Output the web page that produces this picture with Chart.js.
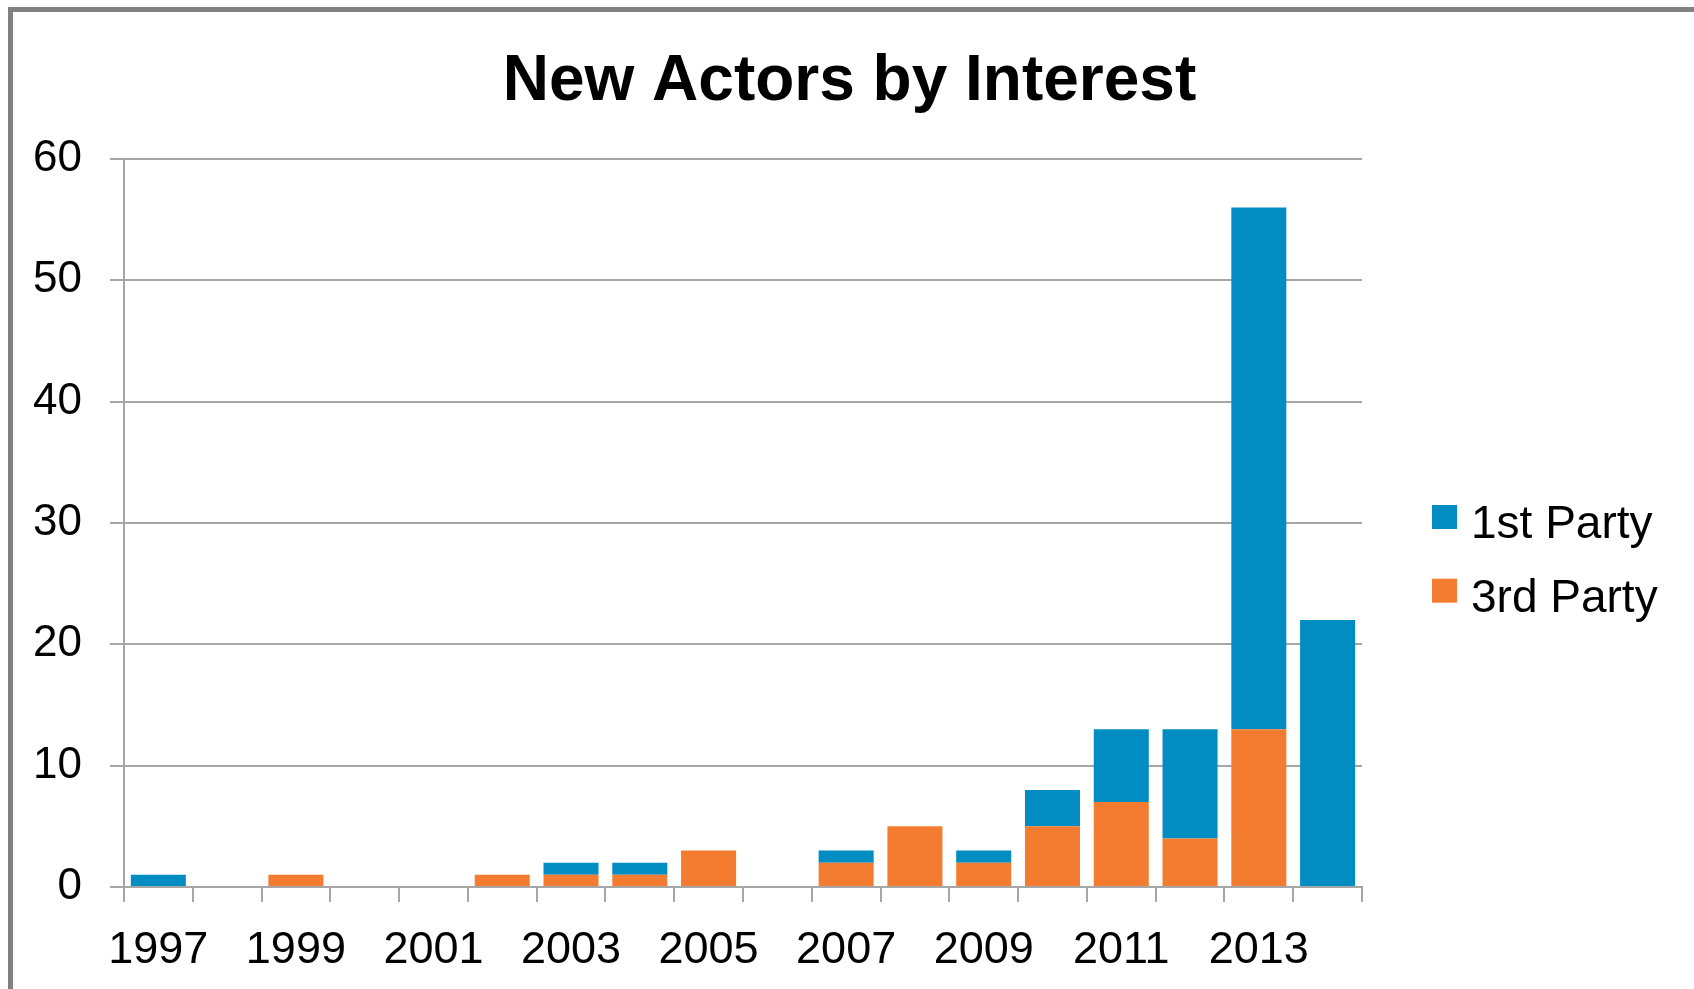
<!DOCTYPE html>
<html>
<head>
<meta charset="utf-8">
<title>New Actors by Interest</title>
<script src="https://cdn.jsdelivr.net/npm/chart.js@4/dist/chart.umd.min.js"></script>
<style>
  html, body { margin: 0; padding: 0; background: #fff; overflow: hidden; }
  #wrap { position: relative; width: 1694px; height: 989px; }
  #frame {
    position: absolute; left: 8px; top: 7px; right: 0; bottom: 0;
    border-left: 5px solid #808080; border-top: 5px solid #808080;
    pointer-events: none;
  }
</style>
</head>
<body>
<div id="wrap">
  <canvas id="actorsChart"></canvas>
  <div id="frame"></div>
</div>
<script>
// ---- data ----
const years = ['1997', '1998', '1999', '2000', '2001', '2002', '2003', '2004', '2005',
               '2006', '2007', '2008', '2009', '2010', '2011', '2012', '2013', '2014'];
const firstParty = [1, 0, 0, 0, 0, 0, 1, 1, 0, 0, 1, 0, 1, 3, 6, 9, 43, 22];
const thirdParty = [0, 0, 1, 0, 0, 1, 1, 1, 3, 0, 2, 5, 2, 5, 7, 4, 13, 0];
const yTicks = [0, 10, 20, 30, 40, 50, 60];

const BLUE   = '#018cc2';
const ORANGE = '#f47c30';
const AXIS   = '#a6a6a6';
const FONT   = '"Liberation Sans", Arial, sans-serif';

// legend drawn in the space to the right of the plot, 1st Party listed first
const sideLegend = {
  id: 'sideLegend',
  afterDraw(chart) {
    const ctx = chart.ctx;
    const items = chart.data.datasets.slice().reverse();
    ctx.save();
    ctx.font = '46px ' + FONT;
    ctx.textBaseline = 'alphabetic';
    items.forEach((ds, i) => {
      const base = 538 + i * 73.7;
      ctx.fillStyle = ds.backgroundColor;
      ctx.fillRect(1432, base - 33, 25, 24);
      ctx.fillStyle = '#000';
      ctx.fillText(ds.label, 1471, base);
    });
    ctx.restore();
  }
};

new Chart(document.getElementById('actorsChart'), {
  type: 'bar',
  data: {
    labels: years,
    datasets: [
      { label: '3rd Party', data: thirdParty, backgroundColor: ORANGE, borderWidth: 0 },
      { label: '1st Party', data: firstParty, backgroundColor: BLUE, borderWidth: 0 }
    ]
  },
  options: {
    responsive: true,
    maintainAspectRatio: false,
    animation: false,
    datasets: { bar: { categoryPercentage: 1, barPercentage: 0.8 } },
    layout: { padding: { left: 5, right: 0, top: 0, bottom: 0 } },
    plugins: {
      legend: { display: false },
      tooltip: { enabled: false },
      title: {
        display: true,
        text: 'New Actors by Interest',
        color: '#000',
        font: { family: FONT, size: 64, weight: 'bold', lineHeight: 1.2 },
        padding: { top: 44, bottom: 38.2 }
      }
    },
    scales: {
      x: {
        stacked: true,
        border: { color: AXIS, width: 2 },
        grid: { offset: true, drawOnChartArea: false, drawTicks: true, tickLength: 15, color: AXIS, lineWidth: 2 },
        ticks: {
          color: '#000',
          font: { family: FONT, size: 45, lineHeight: 1.2 },
          padding: 22,
          maxRotation: 0,
          autoSkip: false,
          callback(value, index) {
            return index % 2 === 0 ? this.getLabelForValue(value) : '';
          }
        },
        afterFit(scale) { scale.height = 102; }
      },
      y: {
        stacked: true,
        min: yTicks[0],
        max: yTicks[yTicks.length - 1],
        afterBuildTicks(scale) {
          scale.ticks = yTicks.map(v => ({ value: v }));
        },
        border: { color: AXIS, width: 2 },
        grid: { color: AXIS, lineWidth: 2, tickLength: 14 },
        ticks: {
          color: '#000',
          font: { family: FONT, size: 44, lineHeight: 1.2 },
          padding: 28
        }
      },
      // empty axis that reserves the legend column on the right
      side: {
        position: 'right',
        grid: { display: false, drawTicks: false },
        border: { display: false },
        ticks: { display: false },
        afterFit(scale) { scale.width = 332; }
      }
    }
  },
  plugins: [sideLegend]
});
</script>
</body>
</html>
